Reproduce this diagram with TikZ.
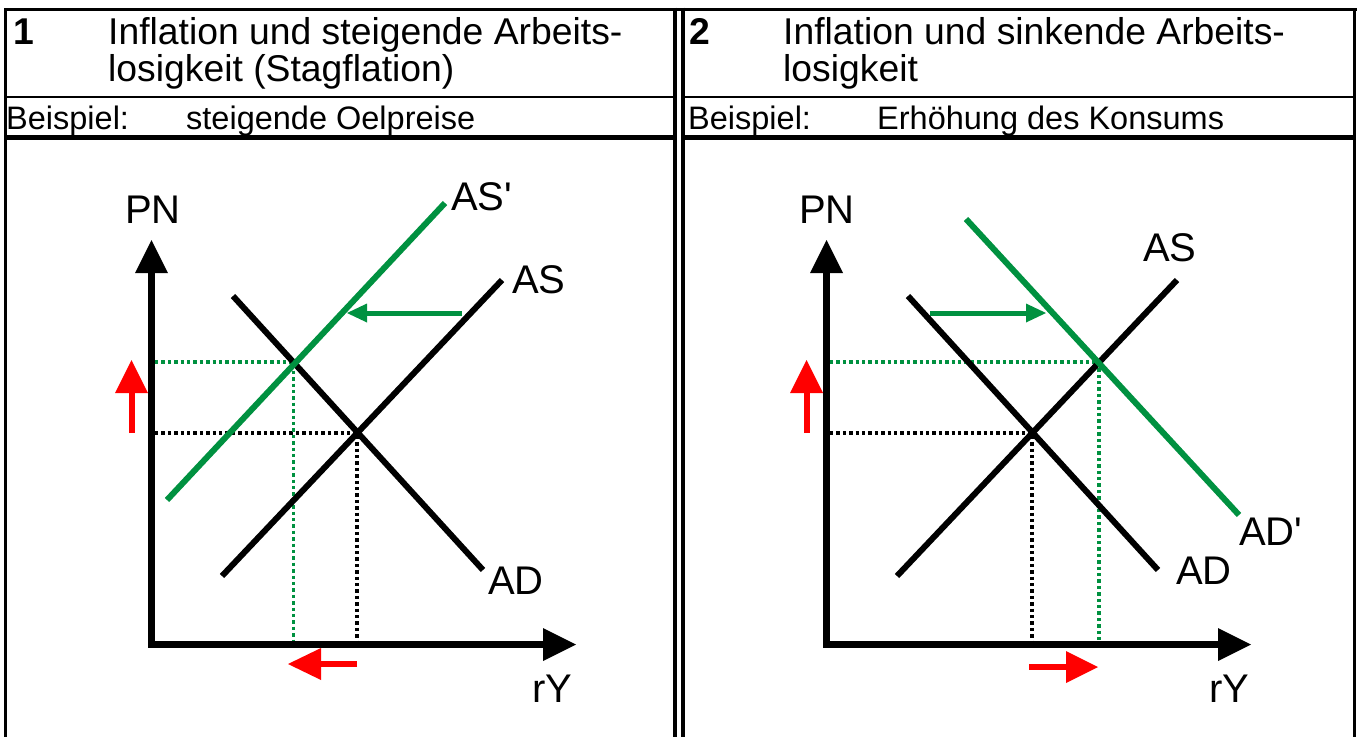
\documentclass[tikz,border=0pt]{standalone}
\usepackage{fontspec}
\setmainfont{Liberation Sans}
\definecolor{agreen}{RGB}{0,145,64}
\definecolor{ared}{RGB}{255,0,0}
\begin{document}
\begin{tikzpicture}[x=1pt,y=-1pt,
  rule/.style={line width=2.5pt},
  thickrule/.style={line width=5pt},
  vrule/.style={line width=4pt},
  curve/.style={line width=6pt},
  axisline/.style={line width=6.5pt},
  dotline/.style={line width=3.5pt, dash pattern=on 3.4pt off 3pt},
  lab/.style={anchor=base west, inner sep=0pt, font=\fontsize{40}{48}\selectfont},
  ttl/.style={anchor=base west, inner sep=0pt, font=\fontsize{37.3}{40}\selectfont},
  bsp/.style={anchor=base west, inner sep=0pt, font=\fontsize{32.5}{36}\selectfont}]
\useasboundingbox (0,0) rectangle (1360,737);
% ---------- table ----------
\draw[line width=3pt] (4,9) -- (1356.5,9);
\draw[rule] (5.5,9) -- (5.5,737);
\draw[line width=3pt] (1354.7,9) -- (1354.7,737);
\draw[vrule] (675,7.5) -- (675,737);
\draw[vrule] (683,7.5) -- (683,737);
\draw[rule] (5.5,97) -- (673,97);
\draw[rule] (685,97) -- (1354.7,97);
\draw[thickrule] (5.5,137.5) -- (673,137.5);
\draw[thickrule] (685,137.5) -- (1354.7,137.5);
% texts panel 1
\node[ttl,font=\bfseries\fontsize{37.3}{40}\selectfont] (n1) at (13,44.5) {1};
\node[ttl] (t1a) at (108,44.5) {Inflation und steigende Arbeits-};
\node[ttl] (t1b) at (108,81.5) {losigkeit (Stagflation)};
\node[bsp] (b1) at (6,129) {Beispiel:};
\node[bsp] (b1t) at (186,129) {steigende Oelpreise};
% texts panel 2
\node[ttl,font=\bfseries\fontsize{37.3}{40}\selectfont] (n2) at (689,44.5) {2};
\node[ttl] (t2a) at (783,44.5) {Inflation und sinkende Arbeits-};
\node[ttl] (t2b) at (783,81.5) {losigkeit};
\node[bsp] (b2) at (688,129) {Beispiel:};
\node[bsp] (b2t) at (877,129) {Erhöhung des Konsums};
% ---------- graph 1 ----------
\coordinate (E1) at (357,433);
\coordinate (F1) at (293.5,362);
\draw[dotline] (155,433) -- (E1) -- (357,641);
\draw[dotline,agreen] (155,362) -- (F1) -- (293.5,641);
\draw[curve] (222,576) -- (502,280);
\draw[curve] (233,296) -- (483,570);
\draw[curve,agreen] (167,500) -- (445,203);
% axes
\draw[axisline] (151.5,647.5) -- (151.5,272);
\fill (135,273) -- (168,273) -- (151.5,240) -- cycle;
\draw[axisline] (148.5,644.5) -- (544,644.5);
\fill (543,628) -- (543,661) -- (576,644.5) -- cycle;
% green shift arrow
\draw[line width=5pt,agreen] (462,313) -- (366,313);
\fill[agreen] (367,303.5) -- (367,322.5) -- (347,313) -- cycle;
% red arrows
\draw[line width=6.7pt,ared] (132,433) -- (132,392);
\fill[ared] (115,393) -- (148,393) -- (131.5,360) -- cycle;
\draw[line width=6.7pt,ared] (357,664) -- (320,664);
\fill[ared] (321,648) -- (321,680) -- (288,664) -- cycle;
% labels
\node[lab] (pn1) at (125,223) {PN};
\node[lab] (as1p) at (451,210) {AS\textquotesingle};
\node[lab] (as1) at (512,293) {AS};
\node[lab] (ad1) at (488,594) {AD};
\node[lab] (ry1) at (532,702) {rY};
% ---------- graph 2 ----------
\coordinate (E2) at (1032,433);
\coordinate (F2) at (1099,362);
\draw[dotline] (830,433) -- (E2) -- (1032,641);
\draw[dotline,agreen] (830,362) -- (F2) -- (1099,641);
\draw[curve] (897,576) -- (1177,280);
\draw[curve] (908,296) -- (1158,570);
\draw[curve,agreen] (966,219) -- (1239,515);
% axes
\draw[axisline] (826.5,647.5) -- (826.5,272);
\fill (810,273) -- (843,273) -- (826.5,240) -- cycle;
\draw[axisline] (823.5,644.5) -- (1219,644.5);
\fill (1218,628) -- (1218,661) -- (1251,644.5) -- cycle;
% green shift arrow
\draw[line width=5pt,agreen] (930,313) -- (1027,313);
\fill[agreen] (1026,303.5) -- (1026,322.5) -- (1046,313) -- cycle;
% red arrows
\draw[line width=6.7pt,ared] (807,433) -- (807,392);
\fill[ared] (790,393) -- (823,393) -- (806.5,360) -- cycle;
\draw[line width=6.7pt,ared] (1029,667) -- (1067,667);
\fill[ared] (1066,651) -- (1066,683) -- (1098,667) -- cycle;
% labels
\node[lab] (pn2) at (799,223) {PN};
\node[lab] (as2) at (1143,261) {AS};
\node[lab] (ad2) at (1176,584) {AD};
\node[lab] (ad2p) at (1239,545) {AD\textquotesingle};
\node[lab] (ry2) at (1209,702) {rY};
\end{tikzpicture}
\end{document}
